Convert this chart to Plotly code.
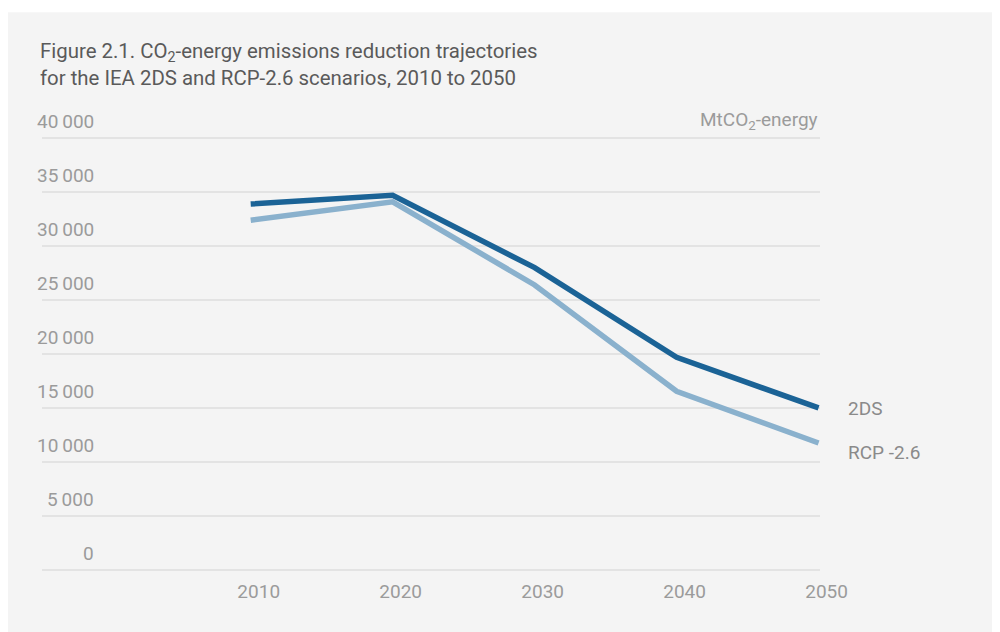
import plotly.graph_objects as go

years = [2010, 2020, 2030, 2040, 2050]
ds2 = [33900, 34700, 28000, 19700, 15000]
rcp26 = [32400, 34100, 26400, 16550, 11750]
y_ticks = [0, 5000, 10000, 15000, 20000, 25000, 30000, 35000, 40000]

FONT = "Roboto, Arial, sans-serif"
DARK = "#1b6396"
LIGHT = "#8ab1cd"
TICK_GREY = "#9b9b9b"

fig = go.Figure()
fig.add_trace(go.Scatter(
    x=years, y=rcp26, name="RCP -2.6", mode="lines",
    line=dict(color=LIGHT, width=5.5),
))
fig.add_trace(go.Scatter(
    x=years, y=ds2, name="2DS", mode="lines",
    line=dict(color=DARK, width=5.5),
))

# tick labels sit above the gridlines
for v in y_ticks:
    fig.add_annotation(
        x=0.0694, xref="paper", y=v, yref="y",
        text=f"{v:,}".replace(",", "\u2009"),
        showarrow=False, xanchor="right", yanchor="bottom", yshift=3,
        font=dict(family=FONT, size=19, color=TICK_GREY),
    )

fig.add_annotation(
    x=1, xref="paper", y=40000, yref="y",
    text="MtCO<sub>2</sub>-energy",
    showarrow=False, xanchor="right", yanchor="bottom", yshift=3,
    font=dict(family=FONT, size=19, color=TICK_GREY),
)
fig.add_annotation(
    x=years[-1], y=ds2[-1], text="2DS", showarrow=False,
    xanchor="left", xshift=27, yshift=-1,
    font=dict(family=FONT, size=19, color="#8a8a8a"),
)
fig.add_annotation(
    x=years[-1], y=rcp26[-1], text="RCP -2.6", showarrow=False,
    xanchor="left", xshift=27, yshift=-9,
    font=dict(family=FONT, size=19, color="#8a8a8a"),
)

# grey panel behind the chart
fig.add_shape(
    type="rect", xref="paper", yref="paper",
    x0=-0.0437, x1=1.25, y0=-0.16, y1=1.2838,
    fillcolor="#f4f4f4", line=dict(width=0), layer="below",
)

fig.update_layout(
    width=1000, height=632,
    paper_bgcolor="white",
    plot_bgcolor="rgba(0,0,0,0)",
    margin=dict(l=34, r=188, t=128, b=68),
    showlegend=False,
    font=dict(family=FONT, size=19, color=TICK_GREY),
    title=dict(
        text="Figure 2.1. CO<sub>2</sub>-energy emissions reduction trajectories<br>"
             "for the IEA 2DS and RCP-2.6 scenarios, 2010 to 2050",
        x=0.032, xref="container", xanchor="left",
        y=1 - 50 / 632, yref="container", yanchor="top",
        font=dict(family=FONT, size=20.4, color="#5a5a5a"),
    ),
    xaxis=dict(
        range=[1995.3, 2050.1],
        tickvals=years,
        showgrid=False, zeroline=False, showline=False,
        ticklabelshift=8, ticklabelstandoff=6,
        tickfont=dict(family=FONT, size=19, color=TICK_GREY),
    ),
    yaxis=dict(
        range=[-200, 40200],
        tickvals=y_ticks,
        showticklabels=False,
        showgrid=True, gridcolor="#e3e3e3", gridwidth=1.5,
        zeroline=False, showline=False,
    ),
)

fig.write_html("out.html")
